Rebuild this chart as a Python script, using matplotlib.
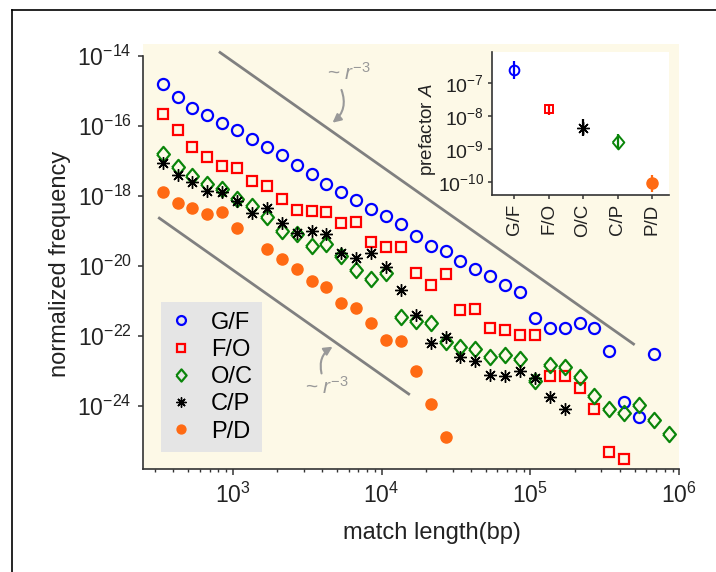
import numpy as np
import matplotlib
matplotlib.use("Agg")
import matplotlib.pyplot as plt
from matplotlib.ticker import LogLocator, NullLocator, FixedLocator
from matplotlib.lines import Line2D

plt.rcParams['font.family'] = ['Liberation Sans', 'DejaVu Sans']
plt.rcParams['mathtext.fontset'] = 'custom'
plt.rcParams['mathtext.rm'] = 'Liberation Sans'
plt.rcParams['mathtext.it'] = 'Liberation Sans:italic'
plt.rcParams['mathtext.bf'] = 'Liberation Sans:bold'

# ---------------- data ----------------
match_len = [339, 427, 537, 676, 851, 1072, 1349, 1698, 2138, 2692, 3388, 4266,
             5370, 6761, 8511, 10715, 13490, 16982, 21380, 26915, 33884, 42658,
             53703, 67608, 85114, 107152, 134896, 169824, 213796, 269153,
             338844, 426580, 537032, 676083, 851138]

# log10 of normalized frequency
gf_log10 = [-14.81, -15.17, -15.49, -15.70, -15.91, -16.11, -16.37, -16.61, -16.84,
            -17.12, -17.36, -17.65, -17.90, -18.11, -18.36, -18.57, -18.81, -19.13,
            -19.42, -19.57, -19.86, -20.10, -20.30, -20.55, -20.73, -21.48, -21.76,
            -21.76, -21.64, -21.76, -22.42, -23.88, -24.31, -22.51]
fo_log10 = [-15.66, -16.12, -16.59, -16.89, -17.15, -17.21, -17.56, -17.71, -18.08,
            -18.39, -18.43, -18.46, -18.77, -18.74, -19.31, -19.46, -19.46, -20.19,
            -20.54, -20.23, -21.26, -21.23, -21.76, -21.83, -21.97, -21.97, -23.13,
            -23.13, -23.49, -24.09, -25.32, -25.51]
oc_log10 = [-16.81, -17.17, -17.44, -17.66, -17.79, -18.08, -18.28, -18.61, -19.00,
            -19.09, -19.43, -19.37, -19.71, -20.12, -20.37, -20.21, -21.45, -21.58,
            -21.62, -22.16, -22.31, -22.36, -22.60, -22.53, -22.67, -23.28, -22.83,
            -22.88, -23.17, -23.71, -24.09, -24.21, -23.97, -24.41, -24.80]
cp_log10 = [-17.05, -17.40, -17.59, -17.85, -17.88, -18.13, -18.48, -18.33, -18.76,
            -19.05, -18.99, -19.09, -19.62, -19.76, -19.64, -20.02, -20.69, -21.40,
            -22.19, -22.04, -22.61, -22.71, -23.11, -23.14, -22.99, -23.19, -23.73,
            -24.09]
pd_x = [339, 427, 537, 676, 851, 1072, 1698, 2138, 2692, 3388, 4266, 5370, 6761,
        8511, 10715, 13490, 16982, 21380, 26915]
pd_log10 = [-17.88, -18.21, -18.35, -18.51, -18.47, -18.92, -19.51, -19.81, -20.08,
            -20.42, -20.60, -21.05, -21.21, -21.64, -22.11, -22.14, -23.01, -23.93,
            -24.88]

series_labels = ['G/F', 'F/O', 'O/C', 'C/P', 'P/D']

# r^-3 guide lines: prefactor (log10) and x range
guide_upper = dict(logC=-5.153, x0=10**2.908, x1=10**5.70)
guide_lower = dict(logC=-11.11, x0=10**2.50, x1=10**4.19)

# inset: prefactor A with error bounds
inset_cats = ['G/F', 'F/O', 'O/C', 'C/P', 'P/D']
prefactor = [2.4e-7, 1.58e-8, 4.4e-9, 1.65e-9, 9.3e-11]
pref_lo = [1.29e-7, 1.05e-8, 2.45e-9, 1.05e-9, 5.25e-11]
pref_hi = [4.57e-7, 2.14e-8, 7.94e-9, 2.82e-9, 1.66e-10]

# ---------------- styles ----------------
BLUE = '#0000FF'
RED = '#FF0000'
GREEN = '#0A850A'
BLACK = '#000000'
ORANGE = '#FF6A13'
GRAY = '#808080'
TXT = '#222222'
ASTER = (8, 2, 0)
DIAM = [(-0.42, 0.0), (0.0, 0.5), (0.42, 0.0), (0.0, -0.5), (-0.42, 0.0)]

fig = plt.figure(figsize=(7.16, 5.72), dpi=100)
fig.patch.set_facecolor('white')

# partial border (top and left lines)
fig.add_artist(Line2D([11.7 / 716, 1.0], [1 - 9.7 / 572, 1 - 9.7 / 572],
                      transform=fig.transFigure, color='black', lw=1.2))
fig.add_artist(Line2D([11.7 / 716, 11.7 / 716], [0.0, 1 - 9.7 / 572],
                      transform=fig.transFigure, color='black', lw=1.2))

ax = fig.add_axes([0.1993, 0.1801, 0.7495, 0.7430])
ax.set_facecolor('#FDF9E7')
ax.set_xscale('log')
ax.set_yscale('log')

ylo, yhi = 10**-25.80, 10**-13.657
ax.set_xlim(10**2.396, 1e6)
ax.set_ylim(ylo, yhi)

x_arr = np.array(match_len, dtype=float)
ax.plot(x_arr[:len(gf_log10)], 10**np.array(gf_log10), 'o', ls='none', ms=8,
        mfc='none', mec=BLUE, mew=1.6, label='G/F')
ax.plot(x_arr[:len(fo_log10)], 10**np.array(fo_log10), 's', ls='none', ms=6.5,
        mfc='none', mec=RED, mew=1.6, label='F/O')
ax.plot(x_arr[:len(oc_log10)], 10**np.array(oc_log10), marker=DIAM, ls='none', ms=11,
        mfc='none', mec=GREEN, mew=1.6, label='O/C')
ax.plot(x_arr[:len(cp_log10)], 10**np.array(cp_log10), marker=ASTER, ls='none',
        ms=9, mfc='none', mec=BLACK, mew=1.0, label='C/P')
ax.plot(pd_x, 10**np.array(pd_log10), 'o', ls='none', ms=8, mfc=ORANGE,
        mec=ORANGE, label='P/D')

for g in (guide_upper, guide_lower):
    xs = np.array([g['x0'], g['x1']])
    ax.plot(xs, 10**g['logC'] * xs**-3.0, color=GRAY, lw=2.0, solid_capstyle='butt')

# annotations
ax.annotate('', xy=(10**3.671, 10**-15.906), xytext=(10**3.731, 10**-14.97),
            arrowprops=dict(arrowstyle='-|>,head_length=0.5,head_width=0.25',
                            color='#999999', lw=1.5,
                            connectionstyle='arc3,rad=-0.35', shrinkA=0, shrinkB=0))
ax.text(10**3.78, 10**-14.49, r'~ $r^{-3}$', color='#999999', fontsize=15,
        ha='center', va='center')
ax.annotate('', xy=(10**3.671, 10**-22.306), xytext=(10**3.597, 10**-23.07),
            arrowprops=dict(arrowstyle='-|>,head_length=0.5,head_width=0.25',
                            color='#999999', lw=1.5,
                            connectionstyle='arc3,rad=-0.35', shrinkA=0, shrinkB=0))
ax.text(10**3.631, 10**-23.45, r'~ $r^{-3}$', color='#999999', fontsize=15,
        ha='center', va='center')

# axes styling
for s in ('top', 'right'):
    ax.spines[s].set_visible(False)
for s in ('left', 'bottom'):
    ax.spines[s].set_color('#333333')
    ax.spines[s].set_linewidth(1.2)
ax.spines['left'].set_bounds(ylo, 1e-14)

ax.yaxis.set_major_locator(FixedLocator([1e-14, 1e-16, 1e-18, 1e-20, 1e-22, 1e-24]))
ax.yaxis.set_minor_locator(NullLocator())
ax.xaxis.set_major_locator(LogLocator(base=10, numticks=10))
ax.xaxis.set_minor_locator(LogLocator(base=10, subs=np.arange(2, 10), numticks=20))
ax.tick_params(axis='both', which='major', direction='out', width=1.1,
               color='#333333', labelsize=16.5, labelcolor=TXT)
ax.tick_params(axis='x', which='major', length=4.3, pad=5.5)
ax.tick_params(axis='y', which='major', length=3.6, pad=4.3)
ax.tick_params(axis='x', which='minor', direction='out', length=2.2, width=1.0,
               color='#333333')

ax.set_xlabel('match length(bp)', fontsize=17, color=TXT)
ax.set_ylabel('normalized frequency', fontsize=17, color=TXT)
ax.yaxis.label.set_va('center')
ax.xaxis.label.set_va('center')
ax.xaxis.set_label_coords(0.539, -0.15)
ax.yaxis.set_label_coords(-0.155, 0.483)

leg = ax.legend(loc='lower left', bbox_to_anchor=(0.034, 0.040), fontsize=17,
                frameon=True, fancybox=False, facecolor='#E5E5E5',
                edgecolor='none', framealpha=1.0, markerscale=0.8,
                handletextpad=0.82, labelspacing=0.22, borderpad=0.4,
                handlelength=0.9, borderaxespad=0)
for t in leg.get_texts():
    t.set_color(BLACK)

# ---------------- inset ----------------
ax2 = fig.add_axes([0.6876, 0.6591, 0.2472, 0.2495])
ax2.set_facecolor('white')
ax2.set_yscale('log')
ax2.set_xlim(-0.63, 4.5)
ax2.set_ylim(10**-10.38, 10**-6.08)

inset_styles = [
    dict(marker='o', ms=7, mfc='none', mec=BLUE, mew=1.4, color=BLUE),
    dict(marker='s', ms=6, mfc='none', mec=RED, mew=1.4, color=RED),
    dict(marker=ASTER, ms=9, mfc='none', mec=BLACK, mew=1.0, color=BLACK),
    dict(marker=DIAM, ms=10, mfc='none', mec=GREEN, mew=1.4, color=GREEN),
    dict(marker='o', ms=8, mfc=ORANGE, mec=ORANGE, mew=1.0, color=ORANGE),
]
for i, (v, lo, hi, st) in enumerate(zip(prefactor, pref_lo, pref_hi, inset_styles)):
    c = st.pop('color')
    ax2.errorbar([i], [v], yerr=[[v - lo], [hi - v]], fmt='none', ecolor=c,
                 elinewidth=1.6, capsize=0)
    ax2.plot([i], [v], ls='none', **st)

ax2.set_xticks(range(len(inset_cats)))
ax2.set_xticklabels(inset_cats, rotation=90)
ax2.yaxis.set_major_locator(FixedLocator([1e-7, 1e-8, 1e-9, 1e-10]))
ax2.yaxis.set_minor_locator(NullLocator())
for s in ('top', 'right'):
    ax2.spines[s].set_visible(False)
for s in ('left', 'bottom'):
    ax2.spines[s].set_color('#333333')
    ax2.spines[s].set_linewidth(1.2)
ax2.tick_params(axis='both', which='major', direction='out', length=3, width=1.1,
                color='#333333', labelsize=14, labelcolor=TXT, pad=3)
ax2.tick_params(axis='x', which='major', labelsize=13.5)
ax2.set_ylabel(r'prefactor $A$', fontsize=13.5, color=TXT)
ax2.yaxis.label.set_va('center')
ax2.yaxis.set_label_coords(-0.369, 0.455)

fig.savefig('out.png', dpi=100)
